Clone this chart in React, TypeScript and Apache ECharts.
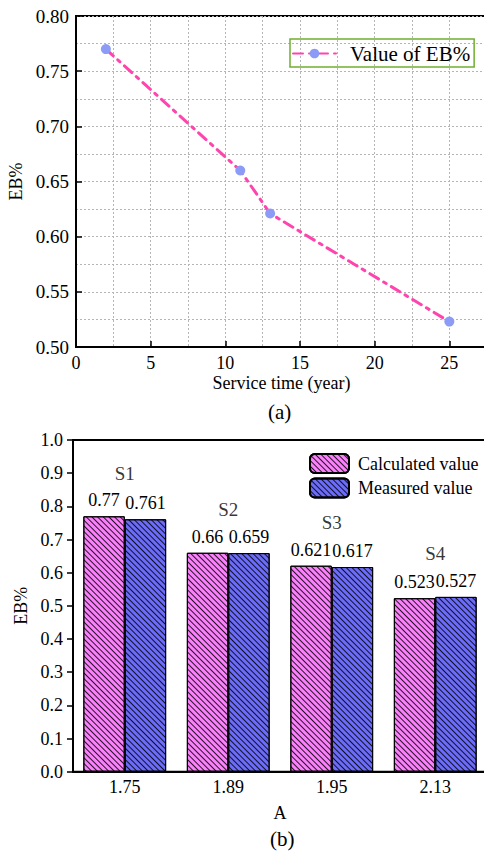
import React, { useEffect, useRef } from "react";
import * as echarts from "echarts";

const serviceYears = [2, 11, 13, 25];
const ebValues = [0.77, 0.66, 0.621, 0.523];

const aCategories = ["1.75", "1.89", "1.95", "2.13"];
const calculatedValues = [0.77, 0.66, 0.621, 0.523];
const measuredValues = [0.761, 0.659, 0.617, 0.527];
const sampleNames = ["S1", "S2", "S3", "S4"];

const FONT = "Liberation Serif";

export default function App() {
  const ref = useRef<HTMLDivElement>(null);
  useEffect(() => {
    document.body.style.margin = "0";
    const chart = echarts.init(ref.current!, null, { renderer: "svg" });
    const hatch = {
      symbol: "rect",
      symbolSize: 1,
      dashArrayX: [1, 0],
      dashArrayY: [1, 3],
      rotation: Math.PI / 4,
      color: "rgba(0,0,0,0.85)",
    };
    const grid = { color: "#b5b5b5", type: [2, 2], width: 1 };
    const option: any = {
      animation: false,
      backgroundColor: "#fff",
      textStyle: { fontFamily: FONT, color: "#000" },
      grid: [
        { left: 76, top: 16, width: 448, height: 331, show: true, borderColor: "#000", borderWidth: 2, backgroundColor: "transparent", containLabel: false, outerBoundsMode: "none" },
        { left: 73, top: 440, width: 414, height: 331.7, show: true, borderColor: "#000", borderWidth: 2, backgroundColor: "transparent", containLabel: false, outerBoundsMode: "none" },
      ],
      legend: [
        {
          data: ["Value of EB%"],
          left: 290,
          top: 39,
          orient: "vertical",
          borderColor: "#6fae2f",
          borderWidth: 1.5,
          padding: [4, 4, 3, 2],
          itemWidth: 43,
          itemHeight: 12,
          itemGap: 0,
          textStyle: { fontFamily: FONT, fontSize: 21, color: "#000", padding: [0, 0, 0, 9] },
        },
        {
          data: ["Calculated value", "Measured value"],
          left: 309,
          top: 453,
          orient: "vertical",
          padding: 0,
          itemWidth: 39,
          itemHeight: 19,
          itemGap: 3.5,
          textStyle: { fontFamily: FONT, fontSize: 18, color: "#000", padding: [0, 0, 0, 4] },
        },
      ],
      xAxis: [
        {
          gridIndex: 0,
          type: "value",
          min: 0,
          max: 30,
          interval: 5,
          name: "Service time (year)",
          nameLocation: "middle",
          nameGap: 27,
          nameTextStyle: { fontFamily: FONT, fontSize: 18, color: "#000", padding: [0, 37, 0, 0] },
          axisLine: { show: true, lineStyle: { color: "#000", width: 2 } },
          axisTick: { show: true, inside: true, length: 6, lineStyle: { color: "#000", width: 1.5 } },
          axisLabel: {
            fontFamily: FONT,
            fontSize: 18,
            color: "#000",
            margin: 7,
            showMaxLabel: false,
            formatter: (v: number) => (v > 25 ? "" : String(v)),
          },
          splitLine: { show: true, lineStyle: grid },
          minorTick: { show: false, splitNumber: 2 },
          minorSplitLine: { show: true, lineStyle: grid },
        },
        {
          gridIndex: 1,
          type: "category",
          data: aCategories,
          name: "A",
          nameLocation: "middle",
          nameGap: 32,
          nameTextStyle: { fontFamily: FONT, fontSize: 18, color: "#000" },
          axisLine: { show: true, lineStyle: { color: "#000", width: 2 } },
          axisTick: { show: false },
          axisLabel: { fontFamily: FONT, fontSize: 18, color: "#000", margin: 6 },
        },
      ],
      yAxis: [
        {
          gridIndex: 0,
          type: "value",
          min: 0.5,
          max: 0.8,
          interval: 0.05,
          name: "EB%",
          nameLocation: "middle",
          nameGap: 49,
          nameTextStyle: { fontFamily: FONT, fontSize: 18, color: "#000" },
          axisLine: { show: true, lineStyle: { color: "#000", width: 2 } },
          axisTick: { show: true, inside: true, length: 6, lineStyle: { color: "#000", width: 1.5 } },
          axisLabel: { fontFamily: FONT, fontSize: 19, color: "#000", margin: 7, formatter: (v: number) => v.toFixed(2) },
          splitLine: { show: true, lineStyle: grid },
          minorTick: { show: false, splitNumber: 2 },
          minorSplitLine: { show: true, lineStyle: grid },
        },
        {
          gridIndex: 1,
          type: "value",
          min: 0,
          max: 1,
          interval: 0.1,
          name: "EB%",
          nameLocation: "middle",
          nameGap: 42,
          nameTextStyle: { fontFamily: FONT, fontSize: 18, color: "#000" },
          axisLine: { show: true, lineStyle: { color: "#000", width: 2 } },
          axisTick: { show: true, inside: false, length: 6, lineStyle: { color: "#000", width: 1.5 } },
          axisLabel: { fontFamily: FONT, fontSize: 18, color: "#000", margin: 10, formatter: (v: number) => v.toFixed(1) },
          splitLine: { show: false },
        },
      ],
      series: [
        {
          name: "Value of EB%",
          type: "line",
          xAxisIndex: 0,
          yAxisIndex: 0,
          data: serviceYears.map((x, i) => [x, ebValues[i]]),
          symbol: "circle",
          symbolSize: 10,
          itemStyle: { color: "#8c9cf6" },
          lineStyle: { color: "#ff45ad", width: 3, type: [10, 6, 3, 6], cap: "round" },
        },
        {
          name: "Calculated value",
          type: "bar",
          xAxisIndex: 1,
          yAxisIndex: 1,
          data: calculatedValues,
          barGap: "0%",
          barCategoryGap: "20%",
          itemStyle: { color: "#fb80fb", borderColor: "#000", borderWidth: 1, decal: hatch },
          label: { show: true, position: "top", distance: 7, fontFamily: FONT, fontSize: 18, color: "#000" },
        },
        {
          name: "Measured value",
          type: "bar",
          xAxisIndex: 1,
          yAxisIndex: 1,
          data: measuredValues,
          barGap: "0%",
          barCategoryGap: "20%",
          itemStyle: { color: "#6c6cfb", borderColor: "#000", borderWidth: 1, decal: hatch },
          label: { show: true, position: "top", distance: 7, fontFamily: FONT, fontSize: 18, color: "#000" },
        },
        {
          name: "samples",
          type: "scatter",
          xAxisIndex: 1,
          yAxisIndex: 1,
          data: calculatedValues.map((c, i) => Math.max(c, measuredValues[i])),
          symbolSize: 1,
          itemStyle: { color: "rgba(0,0,0,0)" },
          silent: true,
          label: {
            show: true,
            position: "top",
            distance: 33,
            fontFamily: FONT,
            fontSize: 19,
            color: "#000",
            formatter: (p: any) => sampleNames[p.dataIndex],
          },
        },
      ],
      graphic: [
        { type: "text", left: 268, top: 401, style: { text: "(a)", fontFamily: FONT, fontSize: 21, fill: "#000" } },
        { type: "text", left: 270, top: 828, style: { text: "(b)", fontFamily: FONT, fontSize: 21, fill: "#000" } },
      ],
    };
    chart.setOption(option);
    return () => chart.dispose();
  }, []);
  return <div ref={ref} style={{ width: 484, height: 853 }} />;
}
